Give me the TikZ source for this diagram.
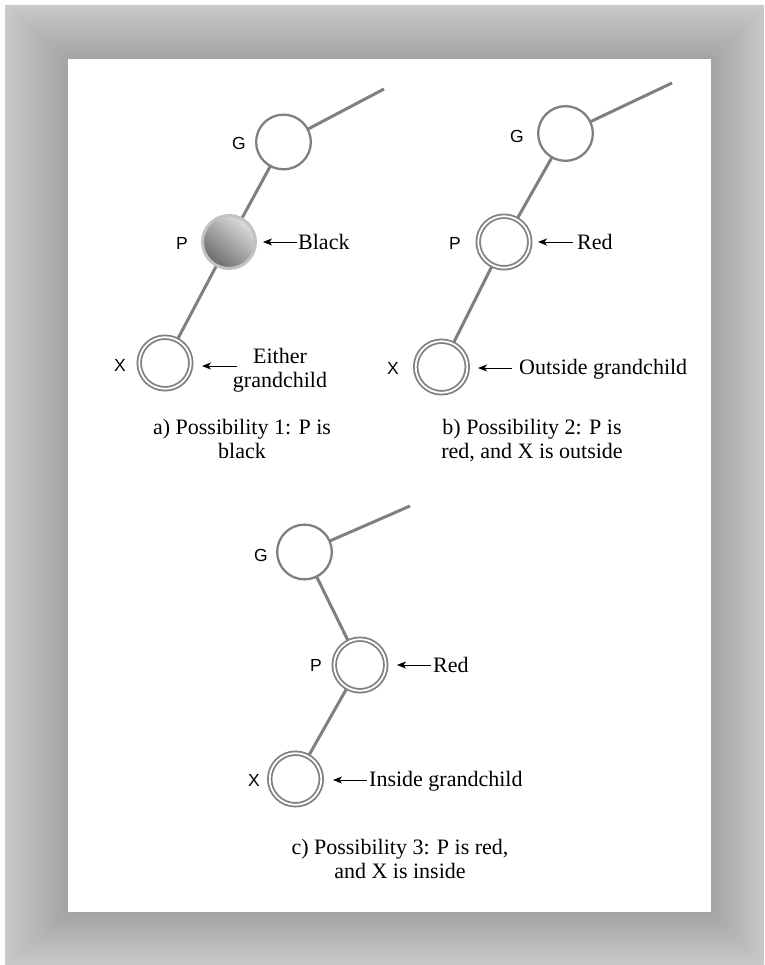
\documentclass[tikz,border=0pt]{standalone}
\usepackage{fontspec}
\setmainfont{Liberation Serif}
\newfontfamily\labfont{Liberation Sans}
\usetikzlibrary{arrows.meta}
\pgfdeclarelayer{framelayer}
\pgfdeclarelayer{edgelayer}
\pgfsetlayers{framelayer,edgelayer,main}
\definecolor{linegray}{HTML}{808080}
\definecolor{framelight}{HTML}{C9C9C9}
\definecolor{framedark}{HTML}{A3A3A3}
\definecolor{blackborder}{HTML}{C2C2C2}
\tikzset{
  plainnode/.style={circle, draw=linegray, line width=2.3pt, fill=white, minimum size=54.7pt, inner sep=0pt, outer sep=0pt},
  dblnode/.style={circle, draw=linegray, double=white, double distance=1.8pt, line width=1.8pt, fill=white, minimum size=51.6pt, inner sep=0pt, outer sep=0pt},
  blacknode/.style={circle, draw=blackborder, line width=3pt, top color=black!13, bottom color=black!58, shading angle=-40, minimum size=53pt, inner sep=0pt, outer sep=0pt},
  edgeline/.style={draw=linegray, line width=3pt},
  labsty/.style={font=\labfont\fontsize{17.5}{19}\selectfont, inner sep=0pt},
  txtsty/.style={font=\fontsize{22}{24}\selectfont, inner sep=0pt},
  capsty/.style={font=\fontsize{22}{24}\selectfont, inner sep=0pt, align=center},
  arr/.style={-{Stealth[length=9pt,width=7pt,inset=2.5pt]}, line width=0.9pt, black}
}
\begin{document}
\begin{tikzpicture}[x=1pt,y=-1pt]
\useasboundingbox (0,0) rectangle (764,965);
\begin{pgfonlayer}{framelayer}
\fill[white] (0,0) rectangle (764,965);
\shade[top color=framelight, bottom color=framedark] (5,5) -- (764,5) -- (711,59) -- (68,59) -- cycle;
\shade[left color=framelight, right color=framedark] (5,5) -- (68,59) -- (68,912) -- (5,965) -- cycle;
\shade[left color=framedark, right color=framelight] (764,5) -- (764,965) -- (711,912) -- (711,59) -- cycle;
\shade[top color=framedark, bottom color=framelight] (68,912) -- (711,912) -- (764,965) -- (5,965) -- cycle;
\fill[white] (68,59) rectangle (711,912);
\end{pgfonlayer}

% ---------- a) ----------
\node[plainnode] (Ga) at (283.5,142) {};
\node[blacknode] (Pa) at (229,242) {};
\node[dblnode] (Xa) at (165,363) {};
\coordinate (Ta) at (384,89);
\node[labsty] (lGa) at (239,143) {G};
\node[labsty] (lPa) at (182,243) {P};
\node[labsty] (lXa) at (120,365) {X};
\node[txtsty, anchor=base west] (tBlack) at (298,250) {Black};
\node[txtsty, align=center] (tEither) at (280,370.4) {Either\\grandchild};
\draw[arr] ([xshift=41.5pt]Pa.east) -- ([xshift=7.5pt]Pa.east);
\draw[arr] ([xshift=46.2pt,yshift=-3pt]Xa.east) -- ([xshift=11.2pt,yshift=-3pt]Xa.east);
\node[capsty] (capA) at (242,439) {a) Possibility 1: P is\\black};

% ---------- b) ----------
\node[plainnode] (Gb) at (565.5,133.5) {};
\node[dblnode] (Pb) at (504,242) {};
\node[dblnode] (Xb) at (441.5,367) {};
\coordinate (Tb) at (672,83);
\node[labsty] (lGb) at (517,136) {G};
\node[labsty] (lPb) at (455,243) {P};
\node[labsty] (lXb) at (393,368) {X};
\node[txtsty, anchor=base west] (tRedb) at (577,249.5) {Red};
\node[txtsty, anchor=base west] (tOutside) at (519,374.5) {Outside grandchild};
\draw[arr] ([xshift=43.2pt]Pb.east) -- ([xshift=8.2pt]Pb.east);
\draw[arr] ([xshift=44.7pt,yshift=-1pt]Xb.east) -- ([xshift=10.7pt,yshift=-1pt]Xb.east);
\node[capsty] (capB) at (532,440.8) {b) Possibility 2: P is\\red, and X is outside};

% ---------- c) ----------
\node[plainnode] (Gc) at (304.5,552) {};
\node[dblnode] (Pc) at (360,665) {};
\node[dblnode] (Xc) at (295.5,779) {};
\coordinate (Tc) at (410,506);
\node[labsty] (lGc) at (261,555) {G};
\node[labsty] (lPc) at (316,665) {P};
\node[labsty] (lXc) at (254,780) {X};
\node[txtsty, anchor=base west] (tRedc) at (433,672) {Red};
\node[txtsty, anchor=base west] (tInside) at (369,786) {Inside grandchild};
\draw[arr] ([xshift=45.2pt]Pc.east) -- ([xshift=11.2pt]Pc.east);
\draw[arr] ([xshift=45.7pt,yshift=-1pt]Xc.east) -- ([xshift=11.7pt,yshift=-1pt]Xc.east);
\node[capsty] (capC) at (400,859) {c) Possibility 3: P is red,\\and X is inside};

% ---------- edges ----------
\begin{pgfonlayer}{edgelayer}
\draw[edgeline] (Ga.center) -- (Ta);
\draw[edgeline] (Ga.center) -- (Pa.center);
\draw[edgeline] (Pa.center) -- (Xa.center);
\draw[edgeline] (Gb.center) -- (Tb);
\draw[edgeline] (Gb.center) -- (Pb.center);
\draw[edgeline] (Pb.center) -- (Xb.center);
\draw[edgeline] (Gc.center) -- (Tc);
\draw[edgeline] (Gc.center) -- (Pc.center);
\draw[edgeline] (Pc.center) -- (Xc.center);
\end{pgfonlayer}
\end{tikzpicture}
\end{document}
